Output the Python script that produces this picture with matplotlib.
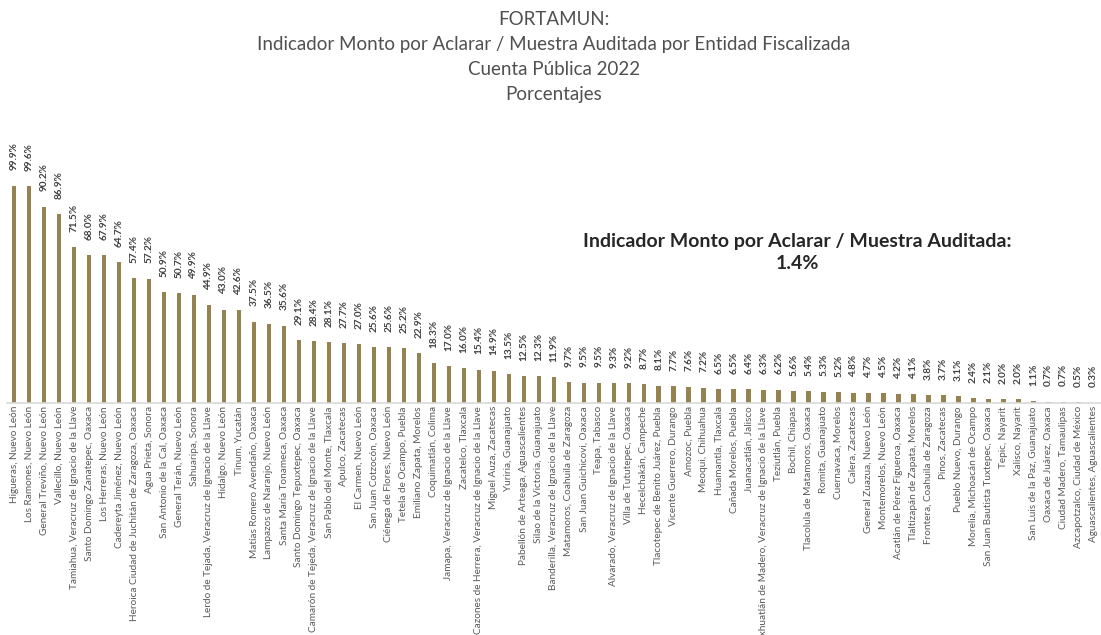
import matplotlib.pyplot as plt

plt.rcParams['font.family'] = ['Lato', 'DejaVu Sans']

municipios = [
    'Higueras, Nuevo León', 'Los Ramones, Nuevo León', 'General Treviño, Nuevo León',
    'Vallecillo, Nuevo León', 'Tamiahua, Veracruz de Ignacio de la Llave',
    'Santo Domingo Zanatepec, Oaxaca', 'Los Herreras, Nuevo León',
    'Cadereyta Jiménez, Nuevo León', 'Heroica Ciudad de Juchitán de Zaragoza, Oaxaca',
    'Agua Prieta, Sonora', 'San Antonio de la Cal, Oaxaca', 'General Terán, Nuevo León',
    'Sahuaripa, Sonora', 'Lerdo de Tejada, Veracruz de Ignacio de la Llave',
    'Hidalgo, Nuevo León', 'Tinum, Yucatán', 'Matías Romero Avendaño, Oaxaca',
    'Lampazos de Naranjo, Nuevo León', 'Santa María Tonameca, Oaxaca',
    'Santo Domingo Tepuxtepec, Oaxaca', 'Camarón de Tejeda, Veracruz de Ignacio de la Llave',
    'San Pablo del Monte, Tlaxcala', 'Apulco, Zacatecas', 'El Carmen, Nuevo León',
    'San Juan Cotzocón, Oaxaca', 'Ciénega de Flores, Nuevo León', 'Tetela de Ocampo, Puebla',
    'Emiliano Zapata, Morelos', 'Coquimatlán, Colima',
    'Jamapa, Veracruz de Ignacio de la Llave', 'Zacatelco, Tlaxcala',
    'Cazones de Herrera, Veracruz de Ignacio de la Llave', 'Miguel Auza, Zacatecas',
    'Yuriria, Guanajuato', 'Pabellón de Arteaga, Aguascalientes',
    'Silao de la Victoria, Guanajuato', 'Banderilla, Veracruz de Ignacio de la Llave',
    'Matamoros, Coahuila de Zaragoza', 'San Juan Guichicovi, Oaxaca', 'Teapa, Tabasco',
    'Alvarado, Veracruz de Ignacio de la Llave', 'Villa de Tututepec, Oaxaca',
    'Hecelchakán, Campeche', 'Tlacotepec de Benito Juárez, Puebla',
    'Vicente Guerrero, Durango', 'Amozoc, Puebla', 'Meoqui, Chihuahua',
    'Huamantla, Tlaxcala', 'Cañada Morelos, Puebla', 'Juanacatlán, Jalisco',
    'Ixhuatlán de Madero, Veracruz de Ignacio de la Llave', 'Teziutlán, Puebla',
    'Bochil, Chiapas', 'Tlacolula de Matamoros, Oaxaca', 'Romita, Guanajuato',
    'Cuernavaca, Morelos', 'Calera, Zacatecas', 'General Zuazua, Nuevo León',
    'Montemorelos, Nuevo León', 'Acatlán de Pérez Figueroa, Oaxaca',
    'Tlaltizapán de Zapata, Morelos', 'Frontera, Coahuila de Zaragoza',
    'Pinos, Zacatecas', 'Pueblo Nuevo, Durango', 'Morelia, Michoacán de Ocampo',
    'San Juan Bautista Tuxtepec, Oaxaca', 'Tepic, Nayarit', 'Xalisco, Nayarit',
    'San Luis de la Paz, Guanajuato', 'Oaxaca de Juárez, Oaxaca',
    'Ciudad Madero, Tamaulipas', 'Azcapotzalco, Ciudad de México',
    'Aguascalientes, Aguascalientes',
]

porcentajes = [
    99.9, 99.6, 90.2, 86.9, 71.5, 68.0, 67.9, 64.7, 57.4, 57.2,
    50.9, 50.7, 49.9, 44.9, 43.0, 42.6, 37.5, 36.5, 35.6, 29.1,
    28.4, 28.1, 27.7, 27.0, 25.6, 25.6, 25.2, 22.9, 18.3, 17.0,
    16.0, 15.4, 14.9, 13.5, 12.5, 12.3, 11.9, 9.7, 9.5, 9.5,
    9.3, 9.2, 8.7, 8.1, 7.7, 7.6, 7.2, 6.5, 6.5, 6.4,
    6.3, 6.2, 5.6, 5.4, 5.3, 5.2, 4.8, 4.7, 4.5, 4.2,
    4.1, 3.8, 3.7, 3.1, 2.4, 2.1, 2.0, 2.0, 1.1, 0.7,
    0.7, 0.5, 0.3,
]

indicador_global = 1.4

fig = plt.figure(figsize=(11.01, 6.35), dpi=100)
ax = fig.add_axes([0.006, 0.365, 0.994, 0.343])

x = range(len(porcentajes))
ax.bar(x, porcentajes, width=0.3, color='#948250')
for i, v in zip(x, porcentajes):
    ax.annotate(f'{v:.1f}%', (i, v), xytext=(0, 11), textcoords='offset points',
                rotation=90, ha='center', va='bottom', fontsize=7.2,
                fontweight='bold', color='#404040', annotation_clip=False)

ax.set_xlim(-0.5, len(porcentajes) - 0.5)
ax.set_ylim(0, 100)
ax.set_xticks(list(x))
ax.set_xticklabels(municipios, rotation=90, fontsize=7.2, color='#595959')
ax.tick_params(axis='x', length=0, pad=2)
ax.set_yticks([])
for s in ['top', 'right', 'left']:
    ax.spines[s].set_visible(False)
ax.spines['bottom'].set_color('#d9d9d9')
ax.spines['bottom'].set_linewidth(1.2)

titulo = ['FORTAMUN:',
          'Indicador Monto por Aclarar / Muestra Auditada por Entidad Fiscalizada',
          'Cuenta Pública 2022', 'Porcentajes']
fig.text(0.503, 0.982, '\n'.join(titulo), ha='center', va='top', fontsize=13.5,
         color='#505050', linespacing=1.55)

fig.text(0.724, 0.603, 'Indicador Monto por Aclarar / Muestra Auditada:\n'
         f'{indicador_global}%', ha='center', va='center', fontsize=14,
         fontweight='bold', color='#262626', linespacing=1.35)

fig.savefig('out.png', dpi=100)
